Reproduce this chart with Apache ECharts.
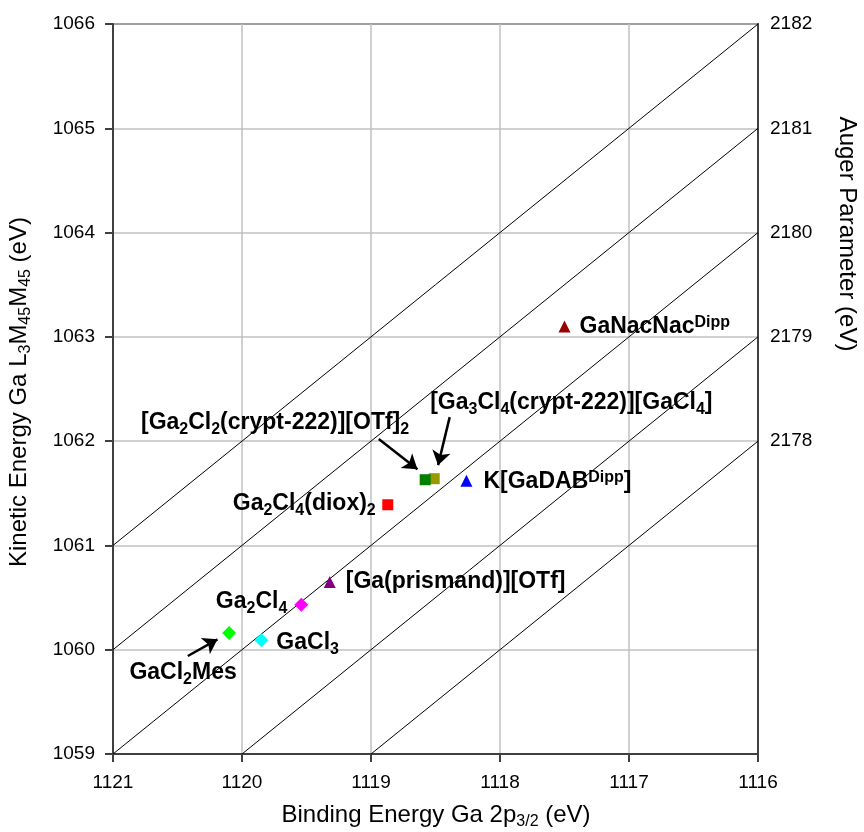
<!DOCTYPE html>
<html>
<head>
<meta charset="utf-8">
<script src="https://cdn.jsdelivr.net/npm/echarts@6/dist/echarts.min.js"></script>
<style>
html, body { margin: 0; padding: 0; background: #fff; }
#main { width: 864px; height: 832px; }
</style>
</head>
<body>
<div id="main"></div>
<script>
// data, one entry per compound
var compounds = ['GaNacNac^{Dipp}', 'K[GaDAB^{Dipp}]', '[Ga_{3}Cl_{4}(crypt-222)][GaCl_{4}]',
    '[Ga_{2}Cl_{2}(crypt-222)][OTf]_{2}', 'Ga_{2}Cl_{4}(diox)_{2}', '[Ga(prismand)][OTf]',
    'Ga_{2}Cl_{4}', 'GaCl_{3}', 'GaCl_{2}Mes'];
var bindingEnergy = [1117.50, 1118.26, 1118.51, 1118.58, 1118.87, 1119.32, 1119.54, 1119.85, 1120.10];
var kineticEnergy = [1063.10, 1061.62, 1061.64, 1061.63, 1061.39, 1060.65, 1060.43, 1060.09, 1060.16];
// constant auger parameter lines (KE + BE)
var augerLines = [2178, 2179, 2180, 2181, 2182];
var augerTicks = [2178, 2179, 2180, 2181, 2182];
// annotation arrows [fromBE, fromKE, toBE, toKE]
var arrows = [
    [1120.42, 1059.94, 1120.19, 1060.10],
    [1118.94, 1062.02, 1118.64, 1061.73],
    [1118.39, 1062.23, 1118.48, 1061.77]
];

// styles
var symbols = ['triangle', 'triangle', 'rect', 'rect', 'rect', 'triangle', 'diamond', 'diamond', 'diamond'];
var colors = ['#990000', '#0000ff', '#999900', '#008000', '#ff0000', '#800080', '#ff00ff', '#00ffff', '#00ff00'];
var sizes = [12, 12, 11, 11, 11, 12, 14, 14, 14];
var labelPos = [
    ['left', 15, 0], ['left', 17, 1], ['left', -4, -76], ['right', -16, -57], ['right', -12, -1],
    ['left', 16, 0], ['right', -14, -3], ['left', 15, 2], ['center', -46, 40]
];

var FONT = "'Liberation Sans', Arial, sans-serif";
var BE_MIN = 1116, BE_MAX = 1121, KE_MIN = 1059, KE_MAX = 1066;

// 'Ga_{2}Cl' -> rich text
function chem(s) {
    return '{b|' + s.replace(/_\{([^}]*)\}/g, '}{s|$1}{b|').replace(/\^\{([^}]*)\}/g, '}{p|$1}{b|') + '}';
}

var labelRich = {
    b: { fontSize: 23, fontWeight: 'bold', fontFamily: FONT, color: '#000' },
    s: { fontSize: 16, fontWeight: 'bold', fontFamily: FONT, color: '#000', padding: [14, 0, 0, 0] },
    p: { fontSize: 16, fontWeight: 'bold', fontFamily: FONT, color: '#000', padding: [0, 0, 8, 0] }
};
var titleRich = {
    b: { fontSize: 24, fontFamily: FONT, color: '#000' },
    s: { fontSize: 16, fontFamily: FONT, color: '#000', padding: [14, 0, 0, 0] }
};

var series = [];

augerLines.forEach(function (ap) {
    var be0 = BE_MAX, ke0 = ap - BE_MAX;
    if (ke0 < KE_MIN) { ke0 = KE_MIN; be0 = ap - KE_MIN; }
    series.push({
        type: 'line',
        data: [[be0, ke0], [BE_MIN, ap - BE_MIN]],
        symbol: 'none',
        silent: true,
        lineStyle: { color: '#000', width: 1 },
        z: 1
    });
});

compounds.forEach(function (name, i) {
    series.push({
        type: 'scatter',
        name: name,
        data: [[bindingEnergy[i], kineticEnergy[i]]],
        symbol: symbols[i],
        symbolSize: sizes[i],
        itemStyle: { color: colors[i], opacity: 1 },
        label: {
            show: true,
            position: 'inside',
            align: labelPos[i][0],
            verticalAlign: 'middle',
            offset: [labelPos[i][1], labelPos[i][2]],
            formatter: chem(name),
            rich: labelRich
        },
        z: 3
    });
});

series.push({
    type: 'lines',
    coordinateSystem: 'cartesian2d',
    symbol: ['none', 'arrow'],
    symbolSize: 14,
    silent: true,
    lineStyle: { color: '#000', width: 2.5, opacity: 1 },
    data: arrows.map(function (a) {
        return { coords: [[a[0], a[1]], [a[2], a[3]]] };
    }),
    z: 4
});

function plain(v) { return String(v); }

var myChart = echarts.init(document.getElementById('main'));
var option = {
    animation: false,
    backgroundColor: '#fff',
    grid: {
        left: 113, right: 106, top: 24, bottom: 78,
        show: true, borderColor: '#404040', borderWidth: 2,
        containLabel: false, outerBoundsMode: 'none'
    },
    xAxis: {
        type: 'value',
        min: BE_MIN, max: BE_MAX, interval: 1,
        inverse: true,
        axisLine: { show: true, onZero: false, lineStyle: { color: '#404040', width: 2 } },
        axisTick: { show: true, length: 8, lineStyle: { color: '#404040', width: 2 } },
        axisLabel: { margin: 19, fontSize: 19, color: '#000', fontFamily: FONT, formatter: plain },
        splitLine: { show: true, lineStyle: { color: '#c0c0c0', width: 1.5 } }
    },
    yAxis: [
        {
            type: 'value',
            min: KE_MIN, max: KE_MAX, interval: 1,
            axisLine: { show: true, onZero: false, lineStyle: { color: '#404040', width: 2 } },
            axisTick: { show: true, length: 8, lineStyle: { color: '#404040', width: 2 } },
            axisLabel: { margin: 18, fontSize: 19, color: '#000', fontFamily: FONT, formatter: plain },
            splitLine: { show: true, lineStyle: { color: '#c0c0c0', width: 1.5 } }
        },
        {
            type: 'value',
            position: 'right',
            min: KE_MIN, max: KE_MAX, interval: 1,
            axisLine: { show: true, onZero: false, lineStyle: { color: '#404040', width: 2 } },
            axisTick: { show: false },
            axisLabel: {
                margin: 12, fontSize: 19, color: '#000', fontFamily: FONT,
                formatter: function (v) {
                    var ap = Math.round(v + BE_MIN);
                    return augerTicks.indexOf(ap) >= 0 ? String(ap) : '';
                }
            },
            splitLine: { show: false }
        }
    ],
    graphic: [
        {
            type: 'text', x: 436, y: 815,
            style: {
                text: chem('Binding Energy Ga 2p_{3/2} (eV)'), rich: titleRich,
                align: 'center', verticalAlign: 'middle', textAlign: 'center', textVerticalAlign: 'middle'
            }
        },
        {
            type: 'text', x: 19, y: 392, rotation: Math.PI / 2,
            style: {
                text: chem('Kinetic Energy Ga L_{3}M_{45}M_{45} (eV)'), rich: titleRich,
                align: 'center', verticalAlign: 'middle', textAlign: 'center', textVerticalAlign: 'middle'
            }
        },
        {
            type: 'text', x: 847, y: 234, rotation: -Math.PI / 2,
            style: {
                text: 'Auger Parameter (eV)', fontSize: 24, fontFamily: FONT, fill: '#000',
                align: 'center', verticalAlign: 'middle', textAlign: 'center', textVerticalAlign: 'middle'
            }
        }
    ],
    series: series
};
myChart.setOption(option);
</script>
</body>
</html>
